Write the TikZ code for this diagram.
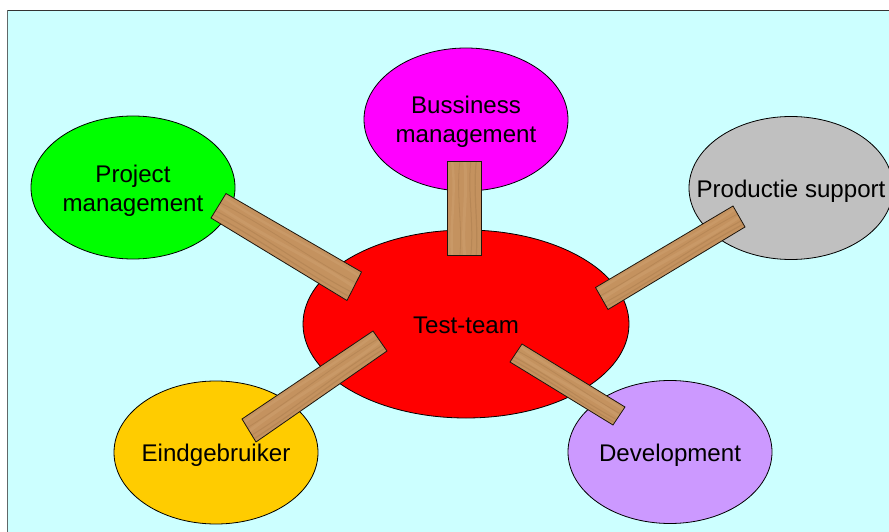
\documentclass[tikz,border=0pt]{standalone}
\usepackage{fontspec}
\setmainfont{Liberation Sans}
\usetikzlibrary{shapes.geometric,calc}
\definecolor{sky}{HTML}{CCFFFF}
\definecolor{woodbase}{HTML}{C4925F}
\definecolor{wooddark}{HTML}{A87A4C}
\definecolor{woodlight}{HTML}{D0A272}
\definecolor{edgegray}{HTML}{606868}
\definecolor{puregreen}{HTML}{00FF00}
\definecolor{puremagenta}{HTML}{FF00FF}
\definecolor{purered}{HTML}{FF0000}
\definecolor{silvergray}{HTML}{C0C0C0}
\definecolor{amber}{HTML}{FFCC00}
\definecolor{lilac}{HTML}{CC99FF}
\tikzset{
  blob/.style={ellipse,draw=black,line width=0.8pt,inner sep=0pt,minimum width=204pt,minimum height=143pt},
  lbl/.style={font=\fontsize{24.1}{29}\selectfont,align=center,text=black,inner sep=0pt},
  plankedge/.style={draw=black!85!woodbase,line width=0.8pt,line join=miter},
  grain/.style={line width=#1,opacity=0.45}
}
% corners in order: short end a-b, then c-d at the other end
\newcommand{\plank}[5]{%
  \coordinate (#1a) at #2; \coordinate (#1b) at #3; \coordinate (#1c) at #4; \coordinate (#1d) at #5;
  \fill[woodbase] (#1a) -- (#1b) -- (#1c) -- (#1d) -- cycle;
  \begin{scope}
    \clip (#1a) -- (#1b) -- (#1c) -- (#1d) -- cycle;
    \foreach \f/\g/\h/\c/\w in {.15/.28/.08/woodlight/2.4pt,.38/.26/.46/wooddark/0.8pt,.52/.62/.42/woodlight/3pt,.70/.60/.80/wooddark/1pt,.86/.76/.93/wooddark/1.2pt}{
      \draw[\c,grain=\w] ($(#1a)!\f!(#1b)$) .. controls ($($(#1a)!\g!(#1b)$)!.35!($(#1d)!\g!(#1c)$)$) and ($($(#1a)!\h!(#1b)$)!.65!($(#1d)!\h!(#1c)$)$) .. ($(#1d)!\f!(#1c)$);
    }
  \end{scope}
  \draw[plankedge] (#1a) -- (#1b) -- (#1c) -- (#1d) -- cycle;
}
\begin{document}
\begin{tikzpicture}[x=1pt,y=-1pt]
  \useasboundingbox (0,0) rectangle (889,532);
  \fill[white] (0,0) rectangle (889,532);
  \fill[sky] (7.5,10.5) rectangle (895,540);
  \draw[black!80,line width=0.9pt] (7.5,10.5) -- (895,10.5);
  \draw[edgegray,line width=1.4pt] (7.5,10.5) -- (7.5,540);

  \node[blob,fill=puregreen] (pm) at (133,187.5) {};
  \node[blob,fill=puremagenta] (bm) at (466,119.5) {};
  \node[blob,fill=silvergray] (ps) at (791,188) {};
  \node[blob,fill=purered,minimum width=326pt,minimum height=188pt] (tt) at (466,324) {};
  \node[blob,fill=amber] (eg) at (216,452.5) {};
  \node[blob,fill=lilac] (dv) at (670,452) {};

  \plank{p1}{(226,193.5)}{(211,218)}{(347,300.5)}{(361.5,272)}
  \plank{p2}{(447,161.5)}{(481,161.5)}{(481,255.5)}{(447,255.5)}
  \plank{p3}{(733,206)}{(745,227)}{(608,309.5)}{(595.5,287.5)}
  \plank{p4}{(373,331)}{(387,351)}{(256,442)}{(242,419)}
  \plank{p5}{(522,344)}{(510,362)}{(613,425)}{(625,407)}

  \node[lbl] (pmt) at (133,190.5) {Project\\management};
  \node[lbl] (bmt) at (466,122) {Bussiness\\management};
  \node[lbl] (pst) at (791,191) {Productie support};
  \node[lbl] (ttt) at (466,325.5) {Test-team};
  \node[lbl] (egt) at (216,455) {Eindgebruiker};
  \node[lbl] (dvt) at (670,455) {Development};
\end{tikzpicture}
\end{document}
